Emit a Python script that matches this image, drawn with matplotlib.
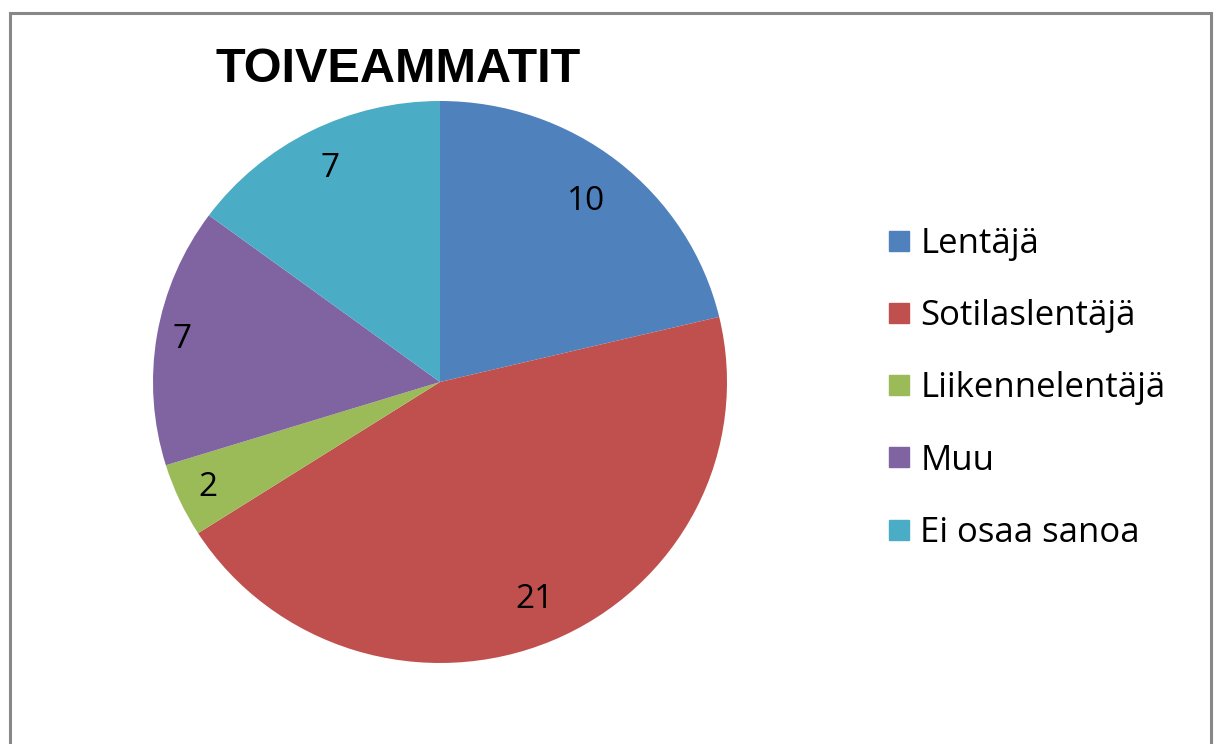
import numpy as np
import matplotlib.pyplot as plt
from matplotlib.lines import Line2D
from matplotlib.patches import Rectangle

title = 'TOIVEAMMATIT'
categories = ['Lentäjä', 'Sotilaslentäjä', 'Liikennelentäjä', 'Muu', 'Ei osaa sanoa']
values = [10, 21, 2, 7, 7]
colors = ['#4F81BD', '#C0504D', '#9BBB59', '#8064A2', '#4BACC6']
label_dist = [0.82, 0.84, 0.89, 0.91, 0.85]

W, H = 1218, 744
fig = plt.figure(figsize=(W / 100, H / 100), dpi=100)

# pie centre ~ (440, 382) px, radius ~ 287 px horizontally, 281 vertically
cx, cy, rx, ry = 440, 382, 287, 281
ax = fig.add_axes([(cx - rx) / W, (H - cy - ry) / H, 2 * rx / W, 2 * ry / H])
wedges, _ = ax.pie(values, colors=colors, startangle=90, counterclock=False,
                   wedgeprops=dict(linewidth=0))
ax.set_aspect('auto')
ax.set_xlim(-1, 1)
ax.set_ylim(-1, 1)
ax.axis('off')

for w, v, d in zip(wedges, values, label_dist):
    ang = np.deg2rad((w.theta1 + w.theta2) / 2)
    ax.text(d * np.cos(ang), d * np.sin(ang), str(v), ha='center', va='center',
            fontsize=24, family='Open Sans', color='black')

fig.text(398 / W, 1 - 70 / H, title, ha='center', va='center',
         fontsize=35, fontweight='bold', family='Liberation Sans')

handles = [Line2D([], [], marker='s', linestyle='none', markersize=14.5,
                  markerfacecolor=c, markeredgecolor=c) for c in colors]
fig.legend(handles, categories, loc='upper left',
           bbox_to_anchor=(889 / W, 1 - 227 / H), frameon=False,
           prop=dict(family='Open Sans', size=25), handlelength=0.6,
           handletextpad=0.3, labelspacing=1.1, borderpad=0, borderaxespad=0)

fig.patches.append(Rectangle((9.5 / W, -0.1), (1211 - 9.5) / W, 1.1 - 13 / H,
                             transform=fig.transFigure, fill=False,
                             edgecolor='#878787', linewidth=2.2))

fig.savefig('out.png', dpi=100)
